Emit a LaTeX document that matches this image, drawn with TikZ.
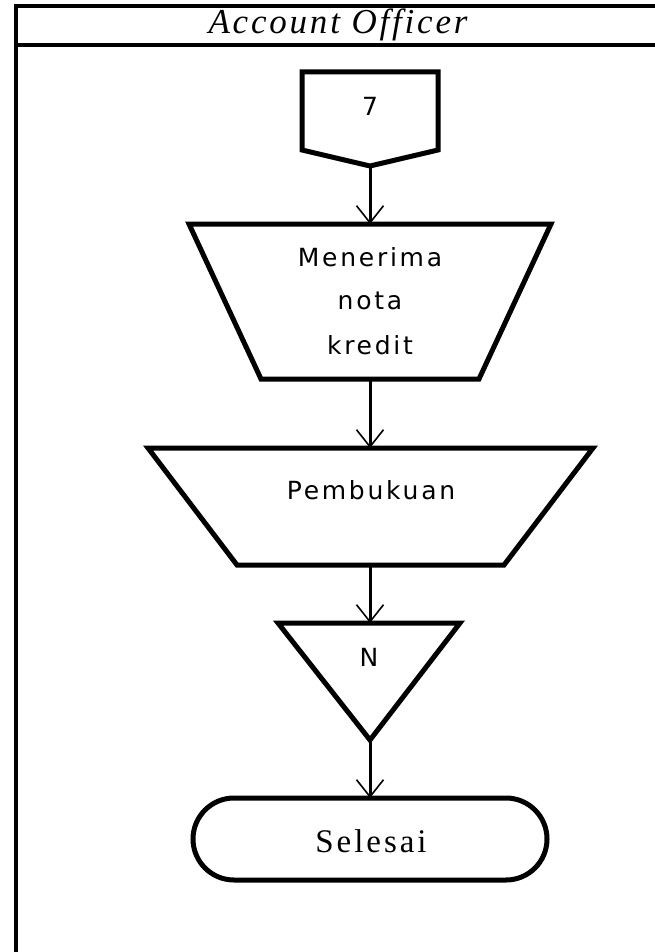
\documentclass[tikz,border=0pt]{standalone}
\usepackage{fontspec}
\setmainfont{Liberation Serif}
\newfontfamily\boxfont[LetterSpace=11]{DejaVu Sans}
\newfontfamily\headfont[LetterSpace=8]{Liberation Serif}
\newfontfamily\endfont[LetterSpace=9]{Liberation Serif}
\usetikzlibrary{arrows.meta}
\begin{document}
\begin{tikzpicture}[x=1pt,y=-1pt,
  frameline/.style={line width=3.5pt},
  shapeline/.style={line width=5pt,line join=miter},
  hold/.style={draw=none,inner sep=0pt,outer sep=0pt},
  conn/.style={line width=3pt,-{Straight Barb[length=17pt,width=27pt,line width=1.6pt]}},
  boxtext/.style={anchor=base,inner sep=0pt,font=\boxfont\fontsize{25pt}{28pt}\selectfont},
  endtext/.style={anchor=base,inner sep=0pt,font=\endfont\fontsize{33pt}{36pt}\selectfont},
  headtext/.style={anchor=base,inner sep=0pt,font=\headfont\itshape\fontsize{35pt}{38pt}\selectfont},
  term/.style={draw,line width=5pt,rounded corners=41pt,minimum width=354pt,minimum height=82pt,inner sep=0pt,outer sep=0pt}
]
\useasboundingbox (0,0) rectangle (654,952);
% frame
\draw[frameline] (16,960) -- (16,6) -- (660,6);
\draw[frameline] (16,45) -- (660,45);
\node[headtext] (hdr) at (338,34) {Account Officer};

% off-page connector 7
\node[hold,minimum width=136pt,minimum height=94pt] (c7) at (370,119) {};
\draw[shapeline] (302,72) -- (438,72) -- (438,150) -- (370,166) -- (302,150) -- cycle;
\node[boxtext] (c7t) at (370,116) {7};

% trapezoid 1 (manual operation)
\node[hold,minimum width=361pt,minimum height=155pt] (t1) at (370,301.5) {};
\draw[shapeline] (189,224) -- (551,224) -- (479,379) -- (261,379) -- cycle;
\node[boxtext] (t1a) at (370,266.5) {Menerima};
\node[boxtext] (t1b) at (370,309) {nota};
\node[boxtext] (t1c) at (370,354) {kredit};

% trapezoid 2
\node[hold,minimum width=445pt,minimum height=117pt] (t2) at (370,506.5) {};
\draw[shapeline] (148,448) -- (593,448) -- (504,565) -- (237,565) -- cycle;
\node[boxtext] (t2t) at (371,499) {Pembukuan};

% triangle (archive N)
\node[hold,minimum width=181pt,minimum height=117pt] (tri) at (370,681.5) {};
\draw[shapeline] (278,623) -- (460,623) -- (370,740) -- cycle;
\node[boxtext] (trit) at (369,666) {N};

% terminator
\node[term] (end) at (370,839) {};
\node[endtext] (endt) at (371,852.5) {Selesai};

% connectors
\draw[conn] (c7.south) -- (t1.north);
\draw[conn] (t1.south) -- (t2.north);
\draw[conn] (t2.south) -- (tri.north);
\draw[conn] (tri.south) -- (end.north);
\end{tikzpicture}
\end{document}
